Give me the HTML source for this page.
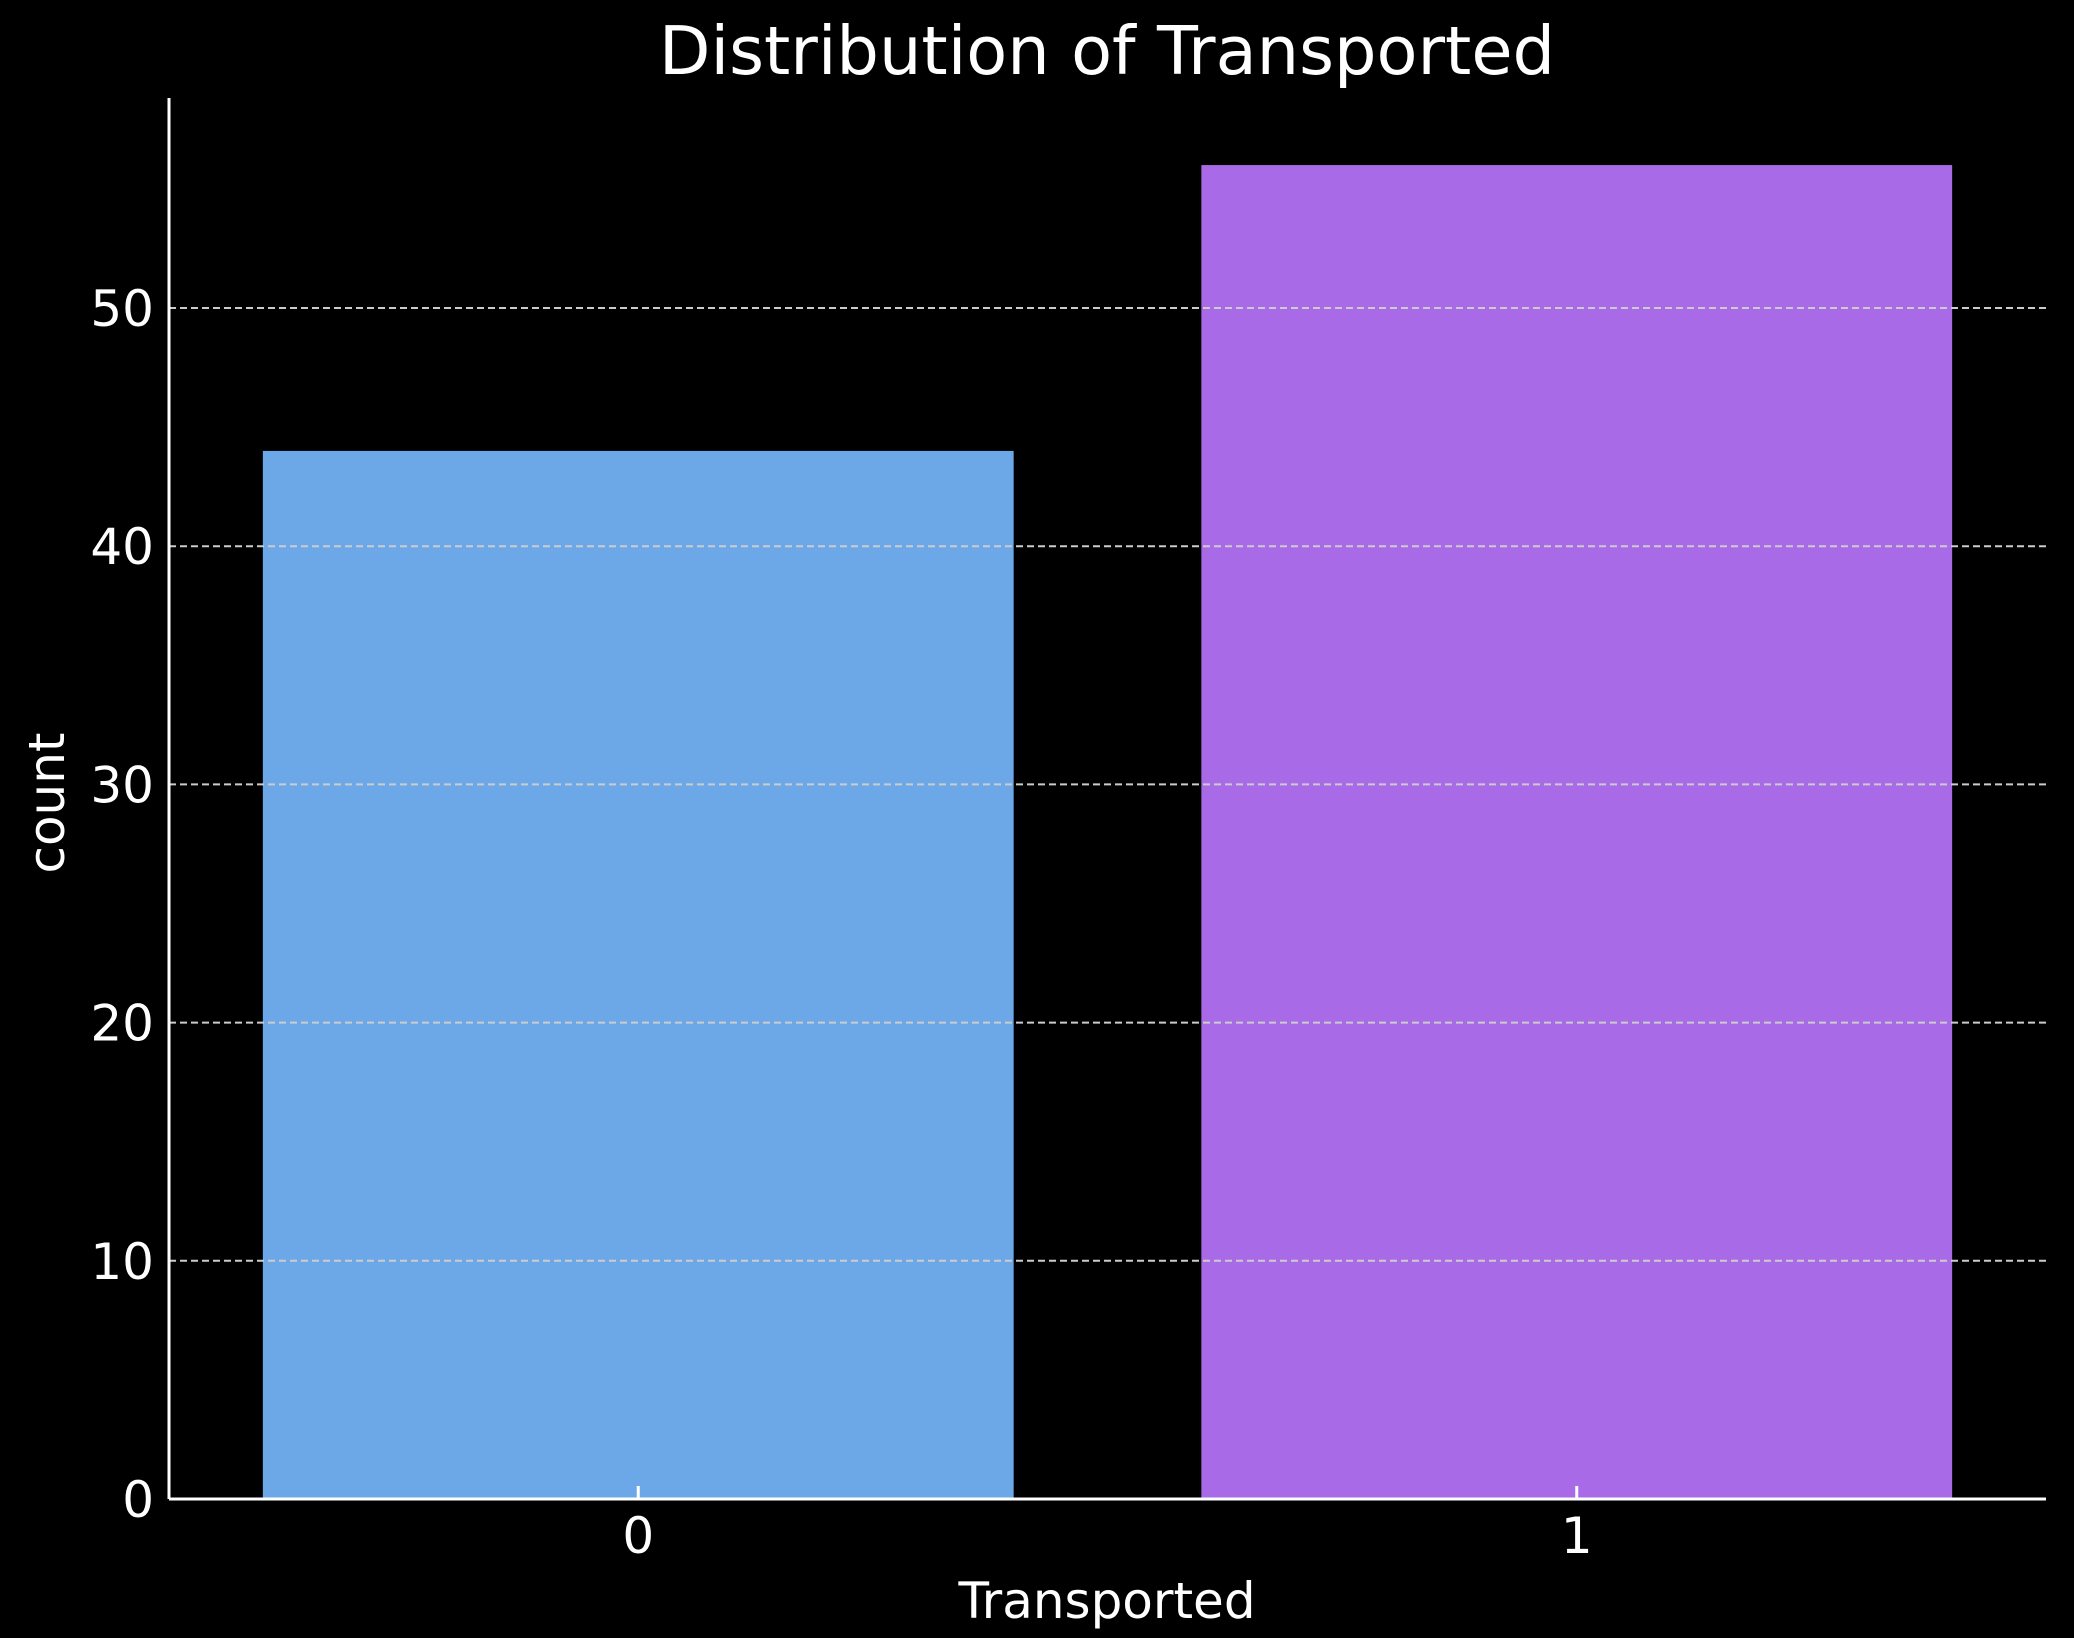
<!DOCTYPE html>
<html><head><meta charset="utf-8"><style>
html,body{margin:0;padding:0;background:#000;}
svg{display:block;font-family:"DejaVu Sans","Liberation Sans",sans-serif;}
</style></head><body>
<svg width="2074" height="1638" viewBox="0 0 2074 1638" id="chart">
<rect width="2074" height="1638" fill="#000"/>
<text x="1107" y="74" fill="#fff" font-size="67" text-anchor="middle">Distribution of Transported</text>
<text x="1107" y="1618" fill="#fff" font-size="50" text-anchor="middle">Transported</text>
<text transform="translate(64,803) rotate(-90)" fill="#fff" font-size="50" text-anchor="middle">count</text>
<g id="bars"></g><g id="grid"></g><g id="axes"></g>
</svg>
<script>
const categories = ["0","1"];
const counts = [44, 56];
const yTicks = [0,10,20,30,40,50];
const colors = ["#6ca8e8","#a96ae8"];
const L=169,R=2046,T=98,B=1499;
const yScale=v=>B-(v/50)*(B-308);
const xScale=i=>L+(i+0.5)/2*(R-L);
const bw=0.8*(R-L)/2;
const ns="http://www.w3.org/2000/svg";
function mk(t,a,p){const e=document.createElementNS(ns,t);for(const k in a)e.setAttribute(k,a[k]);p.appendChild(e);return e;}
const g=document.getElementById('grid'),b=document.getElementById('bars'),ax=document.getElementById('axes');
yTicks.forEach(v=>{
  if(v>0){const l=mk('line',{x1:L,x2:R,y1:yScale(v),y2:yScale(v),stroke:'#ccc','stroke-width':2,'stroke-dasharray':'7,4'},g);
  
  }
  const t=mk('text',{x:154,y:yScale(v)+18,fill:'#fff','font-size':50,'text-anchor':'end'},ax);
  t.textContent=v;
  
  
});
categories.forEach((c,i)=>{
  const r=mk('rect',{x:xScale(i)-bw/2,y:yScale(counts[i]),width:bw,height:B-yScale(counts[i]),fill:colors[i]},b);
  
  
  const tk=mk('line',{x1:xScale(i),x2:xScale(i),y1:B-13,y2:B,stroke:'#fff','stroke-width':3},ax);
  
  
  const t=mk('text',{x:xScale(i),y:1553,fill:'#fff','font-size':50,'text-anchor':'middle'},ax);
  t.textContent=c;
  
  
});
const xa=mk('line',{x1:L,x2:R,y1:B,y2:B,stroke:'#fff','stroke-width':3},ax);


const ya=mk('line',{x1:L,x2:L,y1:T,y2:B,stroke:'#fff','stroke-width':3},ax);


</script>
</body></html>
